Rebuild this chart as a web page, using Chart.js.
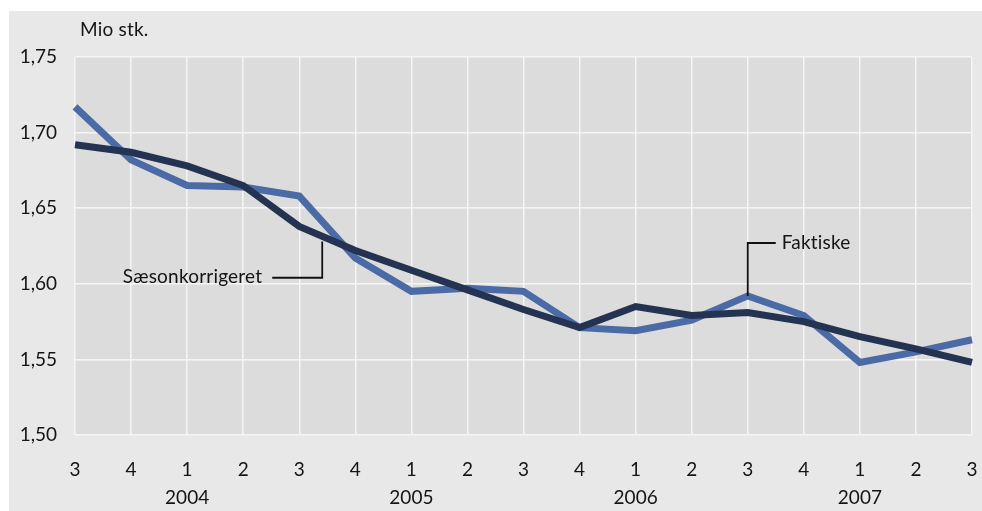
<!DOCTYPE html>
<html>
<head>
<meta charset="utf-8">
<script src="https://cdn.jsdelivr.net/npm/chart.js@4.4.0/dist/chart.umd.min.js"></script>
<style>
  body { margin: 0; background: #fff; }
  #panel { position: absolute; left: 9px; top: 11px; width: 973px; height: 500px; background: #e8e8e8; }
</style>
</head>
<body>
<div id="panel"><canvas id="chartBiler" width="973" height="500"></canvas></div>
<script>
// kvartaler og aar
var kvartaler = ['3', '4', '1', '2', '3', '4', '1', '2', '3', '4', '1', '2', '3', '4', '1', '2', '3'];
var aar = ['2003', '2003', '2004', '2004', '2004', '2004', '2005', '2005', '2005', '2005', '2006', '2006', '2006', '2006', '2007', '2007', '2007'];

// mio stk.
var faktiske = [1.717, 1.682, 1.665, 1.664, 1.658, 1.617, 1.595, 1.597, 1.595, 1.571, 1.569, 1.576, 1.592, 1.579, 1.548, 1.555, 1.563];
var saesonkorrigeret = [1.692, 1.687, 1.678, 1.665, 1.638, 1.622, 1.609, 1.596, 1.583, 1.571, 1.585, 1.579, 1.581, 1.575, 1.565, 1.557, 1.548];

var yTicks = [1.50, 1.55, 1.60, 1.65, 1.70, 1.75];

var fontFam = "Lato, 'Open Sans', sans-serif";
var txtColor = '#141414';

var labels = [];
for (var i = 0; i < kvartaler.length; i++) {
    labels.push(kvartaler[i] === '1' ? [kvartaler[i], aar[i]] : kvartaler[i]);
}

// baggrund + tekster
var pynt = {
    id: 'pynt',
    beforeDraw: function (chart) {
        var ca = chart.chartArea;
        var ctx = chart.ctx;
        ctx.save();
        ctx.fillStyle = '#dcdcdc';
        ctx.fillRect(ca.left, ca.top, ca.right - ca.left, ca.bottom - ca.top);
        ctx.restore();
    },
    afterDatasetsDraw: function (chart) {
        var ctx = chart.ctx;
        var xs = chart.scales.x, ys = chart.scales.y;
        ctx.save();
        ctx.font = '19px ' + fontFam;
        ctx.letterSpacing = '0.2px'; // ingen ligaturer
        ctx.fillStyle = txtColor;
        ctx.textBaseline = 'middle';
        ctx.textAlign = 'left';
        ctx.fillText('Mio stk.', 71, 19);

        ctx.strokeStyle = '#111';
        ctx.lineWidth = 1.8;

        // Faktiske
        var fx = xs.getPixelForValue(12);
        var fy0 = ys.getPixelForValue(faktiske[12]);
        var fy1 = ys.getPixelForValue(1.627);
        ctx.beginPath();
        ctx.moveTo(fx, fy0);
        ctx.lineTo(fx, fy1);
        ctx.lineTo(fx + 28, fy1);
        ctx.stroke();
        ctx.fillText('Faktiske', fx + 34, fy1);

        // Saesonkorrigeret
        var sx = xs.getPixelForValue(4) + 0.41 * (xs.getPixelForValue(5) - xs.getPixelForValue(4));
        var sy0 = ys.getPixelForValue(1.628);
        var sy1 = ys.getPixelForValue(1.604);
        ctx.beginPath();
        ctx.moveTo(sx, sy0);
        ctx.lineTo(sx, sy1);
        ctx.lineTo(sx - 50, sy1);
        ctx.stroke();
        ctx.textAlign = 'right';
        ctx.fillText('Sæsonkorrigeret', sx - 60, sy1 - 1);
        ctx.restore();
    }
};

var ctx = document.getElementById('chartBiler').getContext('2d');
var chartB = new Chart(ctx, {
    type: 'line',
    data: {
        labels: labels,
        datasets: [{
            label: 'Sæsonkorrigeret',
            data: saesonkorrigeret,
            borderColor: '#243352',
            borderWidth: 7,
            pointRadius: 0,
            tension: 0,
            fill: false
        }, {
            label: 'Faktiske',
            data: faktiske,
            borderColor: '#4b6ba6',
            borderWidth: 7,
            pointRadius: 0,
            tension: 0,
            fill: false
        }]
    },
    options: {
        responsive: false,
        animation: false,
        layout: { padding: { top: 46, right: 10, left: 0, bottom: 0 } },
        plugins: {
            legend: { display: false },
            tooltip: { enabled: false }
        },
        scales: {
            x: {
                offset: false,
                grid: { color: '#f5f5f5', lineWidth: 1.5, drawTicks: false },
                border: { display: false },
                ticks: {
                    color: txtColor,
                    font: { family: fontFam, size: 19, lineHeight: 1.474 },
                    padding: 21,
                    maxRotation: 0,
                    autoSkip: false
                },
                afterFit: function (scale) {
                    scale.height = 76;
                    scale.paddingLeft = 0;
                    scale.paddingRight = 0;
                }
            },
            y: {
                min: 1.50,
                max: 1.75,
                grid: { color: '#f5f5f5', lineWidth: 1.5, drawTicks: false },
                border: { display: false },
                afterBuildTicks: function (scale) {
                    scale.ticks = yTicks.map(function (v) { return { value: v }; });
                },
                ticks: {
                    color: txtColor,
                    font: { family: fontFam, size: 19 },
                    padding: 18,
                    callback: function (v) { return v.toFixed(2).replace('.', ','); }
                },
                afterFit: function (scale) { scale.width = 66; }
            }
        }
    },
    plugins: [pynt]
});
</script>
</body>
</html>
